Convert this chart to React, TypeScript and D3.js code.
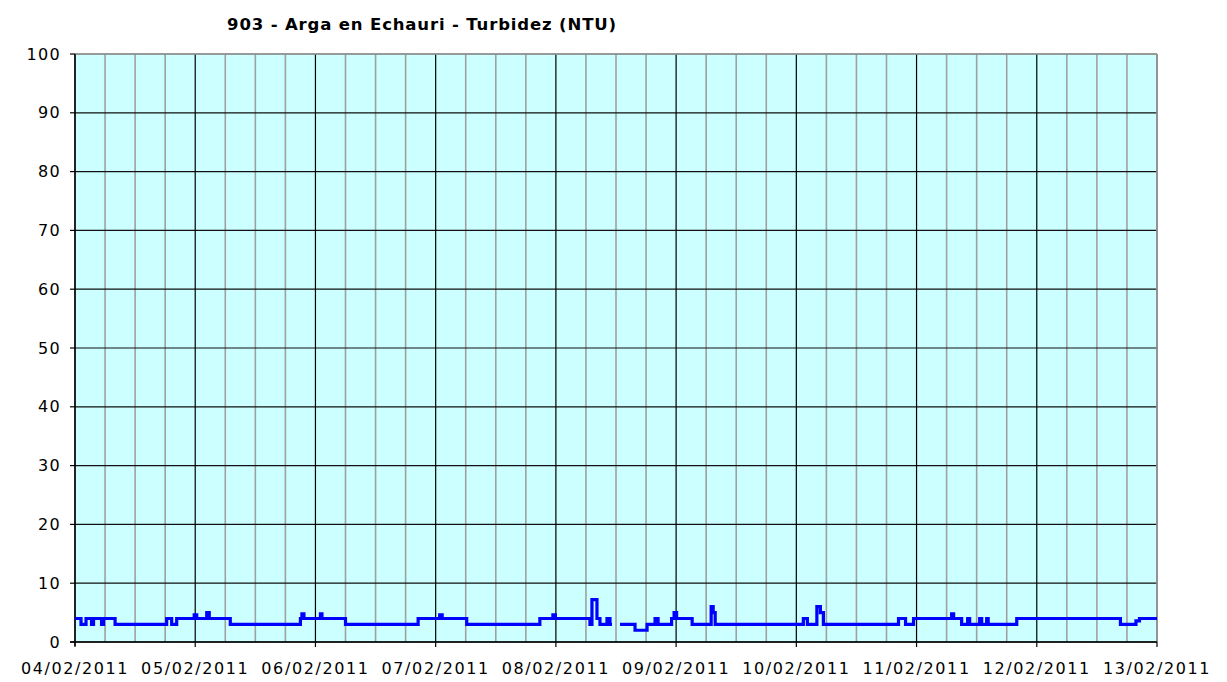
import React from "react";
import * as d3 from "d3";

const title = "903 - Arga en Echauri - Turbidez (NTU)";
const dayLabels = [
  "04/02/2011", "05/02/2011", "06/02/2011", "07/02/2011", "08/02/2011",
  "09/02/2011", "10/02/2011", "11/02/2011", "12/02/2011", "13/02/2011",
];
const yTicks = [0, 10, 20, 30, 40, 50, 60, 70, 80, 90, 100];

// hours since 04/02/2011 00:00
const hours = [
  0, 1.2, 2.2, 3.3, 3.7, 5.3, 5.7, 8,
  18.3, 19.3, 20.3, 23.8, 24.3, 26.3, 26.8, 31,
  45, 45.3, 45.7, 49, 49.3, 54,
  68.5, 72.8, 73.3, 78.2,
  92.8, 95.4, 95.9, 102.8, 103.2, 104.2, 104.8, 106.2, 106.8, 107.2, 107.3,
  108.8, 111.8, 114.2, 115.8, 116.4, 119.1, 119.6, 120.1, 123.2,
  127.0, 127.4, 127.8, 145.4, 146.2, 148.1, 148.8, 149.4,
  164.4, 165.8, 167.4, 175, 175.4, 177, 178.2, 178.6, 180.6, 181, 182, 182.3,
  188, 208.7, 211.8, 212.5, 216,
];
const turbidity: (number | null)[] = [
  4, 3, 4, 3, 4, 3, 4, 3,
  4, 3, 4, 4.6, 4, 5, 4, 3,
  4, 4.8, 4, 4.8, 4, 3,
  4, 4.6, 4, 3,
  4, 4.6, 4, 3, 7.2, 4, 3, 4, 3, 3, null,
  3, 2, 3, 4, 3, 4, 5, 4, 3,
  6, 5, 3, 4, 3, 6, 5, 3,
  4, 3, 4, 4.8, 4, 3, 4, 3, 4, 3, 4, 3,
  4, 3, 3.6, 4, 4,
];

export default function App() {
  const left = 75, right = 1157, top = 54, bottom = 642;
  const x = d3.scaleLinear().domain([0, 216]).range([left, right]);
  const y = d3.scaleLinear().domain([0, 100]).range([bottom, top]);
  const pts = hours.map((h, i) => ({ h, v: turbidity[i] }));
  const line = d3
    .line<{ h: number; v: number | null }>()
    .defined((d) => d.v != null)
    .x((d) => x(d.h))
    .y((d) => y(d.v as number))
    .curve(d3.curveStepAfter);
  const sixHours = d3.range(0, 217, 6).filter((h) => h % 24 !== 0);
  const days = d3.range(0, 217, 24);
  const font = "'DejaVu Sans', Verdana, sans-serif";
  return (
    <svg width={1227} height={682} style={{ position: "absolute", left: 0, top: 0, background: "#fff" }}>
      <rect x={left} y={top} width={right - left} height={bottom - top} fill="#ccffff" />
      {sixHours.map((h) => (
        <line key={"g" + h} x1={x(h)} x2={x(h)} y1={top} y2={bottom} stroke="#a0a0a0" strokeWidth={1.6} />
      ))}
      {yTicks.map((t) => (
        <line key={"h" + t} x1={left} x2={right} y1={y(t)} y2={y(t)} stroke="#111" strokeWidth={1.2} />
      ))}
      {days.map((h) => (
        <line key={"d" + h} x1={x(h)} x2={x(h)} y1={top} y2={bottom} stroke="#000" strokeWidth={1.2} />
      ))}
      <line x1={right} x2={right} y1={top} y2={bottom} stroke="#a0a0a0" strokeWidth={1.6} />
      <line x1={left} x2={right} y1={top} y2={top} stroke="#a0a0a0" strokeWidth={1.6} />
      <line x1={left} x2={left} y1={top} y2={bottom + 4} stroke="#000" strokeWidth={1.3} />
      <line x1={left - 5} x2={right} y1={bottom} y2={bottom} stroke="#000" strokeWidth={1.3} />
      {yTicks.map((t) => (
        <g key={"yt" + t}>
          <line x1={left - 5} x2={left} y1={y(t)} y2={y(t)} stroke="#000" strokeWidth={1.2} />
          <text x={61} y={y(t)} dy="0.35em" textAnchor="end" fontFamily={font} fontSize={16} letterSpacing={1.3} fill="#000">
            {t}
          </text>
        </g>
      ))}
      {days.map((h, i) => (
        <g key={"xt" + h}>
          <line x1={x(h)} x2={x(h)} y1={bottom} y2={bottom + 5} stroke="#000" strokeWidth={1.2} />
          <text x={x(h)} y={674} textAnchor="middle" fontFamily={font} fontSize={16} letterSpacing={1.6} fill="#000">
            {dayLabels[i]}
          </text>
        </g>
      ))}
      <path d={line(pts) || ""} fill="none" stroke="#0000ff" strokeWidth={3.2} strokeLinejoin="miter" />
      <text x={422} y={30} textAnchor="middle" fontFamily={font} fontWeight="bold" fontSize={16.5} letterSpacing={0.85} fill="#000">
        {title}
      </text>
    </svg>
  );
}
